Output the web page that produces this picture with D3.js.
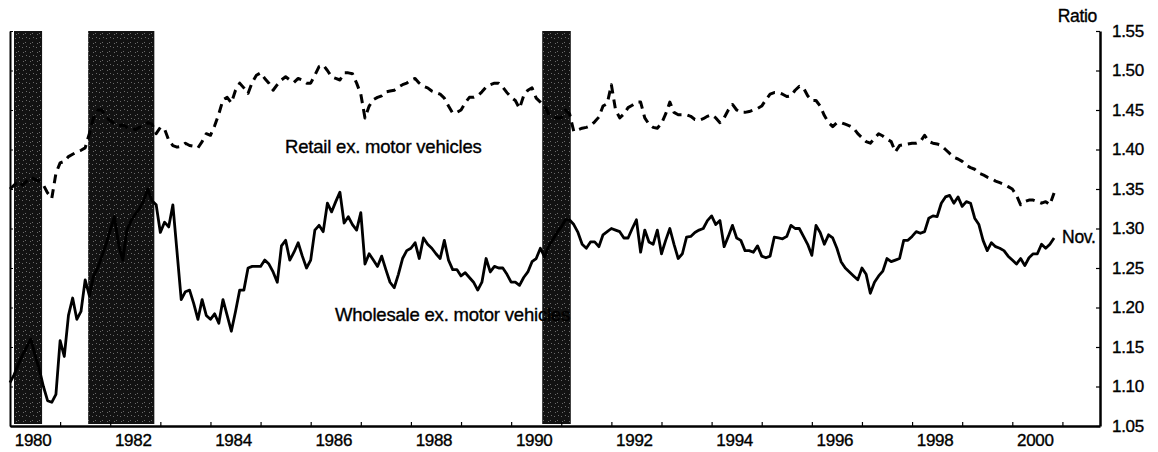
<!DOCTYPE html>
<meta charset="utf-8">
<style>

body {
  margin: 0;
  background: #fff;
}

text {
  font-family: "Liberation Sans", Arial, sans-serif;
  fill: #000;
  stroke: #000;
  stroke-width: 0.35px;
}

.axis path,
.axis line {
  stroke: #000;
}

.series {
  fill: none;
  stroke: #000;
  stroke-linejoin: round;
}

</style>
<svg></svg>
<script src="https://d3js.org/d3.v7.min.js"></script>
<script>

var width = 1158,
    height = 452;

// Monthly ratios, Jan 1980 through Nov 2000
var wholesale = [
  1.105, 1.115, 1.128, 1.140, 1.150, 1.160, 1.140, 1.122, 1.100, 1.082, 1.080, 1.090,
  1.158, 1.138, 1.190, 1.212, 1.185, 1.195, 1.235, 1.215, 1.240, 1.250, 1.265, 1.280,
  1.298, 1.315, 1.280, 1.260, 1.298, 1.310, 1.318, 1.325, 1.335, 1.350, 1.335, 1.330,
  1.295, 1.308, 1.302, 1.330, 1.270, 1.210, 1.220, 1.222, 1.205, 1.185, 1.210, 1.190,
  1.185, 1.192, 1.180, 1.210, 1.190, 1.170, 1.195, 1.222, 1.222, 1.250, 1.252, 1.252,
  1.252, 1.260, 1.255, 1.245, 1.232, 1.278, 1.285, 1.260, 1.270, 1.282, 1.265, 1.250,
  1.260, 1.298, 1.304, 1.296, 1.332, 1.321, 1.334, 1.346, 1.307, 1.315, 1.305, 1.298,
  1.320, 1.255, 1.268, 1.260, 1.252, 1.265, 1.248, 1.232, 1.225, 1.242, 1.262, 1.272,
  1.275, 1.282, 1.262, 1.288, 1.280, 1.275, 1.268, 1.262, 1.285, 1.260, 1.248, 1.248,
  1.240, 1.244, 1.238, 1.232, 1.222, 1.232, 1.262, 1.245, 1.252, 1.250, 1.250, 1.242,
  1.232, 1.232, 1.228, 1.238, 1.245, 1.258, 1.262, 1.275, 1.264, 1.278, 1.286, 1.295,
  1.302, 1.311, 1.311, 1.305, 1.295, 1.280, 1.275, 1.283, 1.283, 1.277, 1.292, 1.296,
  1.300, 1.298, 1.296, 1.288, 1.288, 1.300, 1.311, 1.270, 1.298, 1.283, 1.280, 1.298,
  1.268, 1.285, 1.300, 1.280, 1.262, 1.268, 1.289, 1.290, 1.295, 1.298, 1.300, 1.310,
  1.316, 1.305, 1.310, 1.277, 1.290, 1.304, 1.288, 1.285, 1.272, 1.272, 1.270, 1.278,
  1.265, 1.263, 1.265, 1.289, 1.288, 1.287, 1.290, 1.304, 1.300, 1.300, 1.290, 1.280,
  1.266, 1.304, 1.295, 1.280, 1.292, 1.288, 1.275, 1.258, 1.250, 1.245, 1.240, 1.235,
  1.250, 1.242, 1.218, 1.232, 1.240, 1.246, 1.262, 1.258, 1.260, 1.262, 1.285, 1.285,
  1.290, 1.296, 1.294, 1.296, 1.313, 1.316, 1.315, 1.332, 1.340, 1.342, 1.332, 1.340,
  1.328, 1.334, 1.332, 1.313, 1.305, 1.285, 1.272, 1.282, 1.277, 1.275, 1.272, 1.265,
  1.260, 1.255, 1.262, 1.253, 1.263, 1.268, 1.268, 1.280, 1.275, 1.280, 1.288
];

var retail = [
  1.350, 1.355, 1.360, 1.355, 1.360, 1.365, 1.362, 1.360, 1.355, 1.345, 1.338, 1.370,
  1.383, 1.385, 1.391, 1.394, 1.397, 1.399, 1.402, 1.420, 1.440, 1.450, 1.450, 1.440,
  1.437, 1.432, 1.430, 1.431, 1.428, 1.428, 1.425, 1.428, 1.430, 1.434, 1.432, 1.420,
  1.428, 1.426, 1.412, 1.405, 1.403, 1.404, 1.408, 1.405, 1.404, 1.402, 1.410, 1.420,
  1.418, 1.430, 1.445, 1.463, 1.466, 1.459, 1.475, 1.484, 1.478, 1.471, 1.485, 1.494,
  1.497, 1.490, 1.484, 1.475, 1.482, 1.488, 1.492, 1.488, 1.485, 1.490, 1.488, 1.484,
  1.484, 1.494, 1.505, 1.507, 1.500, 1.492, 1.490, 1.488, 1.497, 1.497, 1.496, 1.484,
  1.470, 1.440, 1.455, 1.463, 1.466, 1.468, 1.473, 1.474, 1.475, 1.479, 1.482, 1.484,
  1.488, 1.490, 1.484, 1.480, 1.478, 1.474, 1.472, 1.470, 1.465, 1.455, 1.446, 1.447,
  1.450, 1.459, 1.466, 1.466, 1.468, 1.473, 1.479, 1.482, 1.484, 1.484, 1.479, 1.472,
  1.466, 1.462, 1.452, 1.468, 1.475, 1.478, 1.465, 1.460, 1.455, 1.445, 1.441, 1.440,
  1.440, 1.450, 1.445, 1.423, 1.425, 1.427, 1.428, 1.430, 1.435, 1.441, 1.455, 1.458,
  1.482, 1.450, 1.440, 1.445, 1.453, 1.456, 1.460, 1.460, 1.440, 1.432, 1.428, 1.427,
  1.433, 1.445, 1.460, 1.447, 1.444, 1.444, 1.444, 1.442, 1.438, 1.437, 1.439, 1.442,
  1.444, 1.440, 1.434, 1.440, 1.450, 1.457, 1.450, 1.447, 1.447, 1.448, 1.450, 1.452,
  1.455, 1.463, 1.470, 1.472, 1.472, 1.470, 1.467, 1.468, 1.475, 1.480, 1.478, 1.468,
  1.462, 1.462, 1.455, 1.443, 1.434, 1.429, 1.434, 1.434, 1.432, 1.430, 1.427, 1.420,
  1.415, 1.410, 1.408, 1.414, 1.420, 1.417, 1.413, 1.410, 1.397, 1.405, 1.406, 1.407,
  1.408, 1.408, 1.410, 1.418, 1.410, 1.408, 1.407, 1.405, 1.400, 1.395, 1.390, 1.388,
  1.385, 1.380, 1.377, 1.375, 1.370, 1.368, 1.365, 1.363, 1.360, 1.358, 1.356, 1.353,
  1.350, 1.342, 1.330, 1.334, 1.336, 1.336, 1.334, 1.332, 1.334, 1.330, 1.345
];

// Recession periods, decimal years
var recessions = [[1980.08, 1980.64], [1981.56, 1982.88], [1990.62, 1991.19]];

var yTicks = [1.05, 1.10, 1.15, 1.20, 1.25, 1.30, 1.35, 1.40, 1.45, 1.50, 1.55];
var yearTicks = d3.range(1981, 2002);
var yearLabels = [1980, 1982, 1984, 1986, 1988, 1990, 1992, 1994, 1996, 1998, 2000];

var x = d3.scaleLinear()
    .domain([1980, 2001.75])
    .range([10, 1100]);

var y = d3.scaleLinear()
    .domain([1.05, 1.55])
    .range([426, 31]);

var svg = d3.select("svg")
    .attr("width", width)
    .attr("height", height);

// speckle texture for the shaded bars
var defs = svg.append("defs");
var pat = defs.append("pattern")
    .attr("id", "speck")
    .attr("patternUnits", "userSpaceOnUse")
    .attr("width", 7)
    .attr("height", 9);
pat.append("rect").attr("width", 7).attr("height", 9).attr("fill", "#121212");
[[1, 2], [4, 6], [5, 1], [2, 7]].forEach(function(p) {
  pat.append("rect").attr("x", p[0]).attr("y", p[1])
      .attr("width", 1).attr("height", 1).attr("fill", "#6a6a6a");
});

var clip = defs.append("clipPath").attr("id", "rec-clip");
clip.selectAll("rect")
    .data(recessions)
  .enter().append("rect")
    .attr("x", function(d) { return x(d[0]); })
    .attr("y", y(1.55))
    .attr("width", function(d) { return x(d[1]) - x(d[0]); })
    .attr("height", y(1.05) - y(1.55) - 2);

svg.append("g").selectAll("rect")
    .data(recessions)
  .enter().append("rect")
    .attr("x", function(d) { return x(d[0]); })
    .attr("y", y(1.55))
    .attr("width", function(d) { return x(d[1]) - x(d[0]); })
    .attr("height", y(1.05) - y(1.55) - 2)
    .attr("fill", "url(#speck)");

var line = d3.line()
    .x(function(d, i) { return x(1980 + i / 12); })
    .y(function(d) { return y(d); });

function drawSeries(g, color, w) {
  g.append("path")
      .attr("class", "series")
      .attr("d", line(retail))
      .attr("stroke", color)
      .attr("stroke-width", w)
      .attr("stroke-dasharray", "9,6");
  g.append("path")
      .attr("class", "series")
      .attr("d", line(wholesale))
      .attr("stroke", color)
      .attr("stroke-width", w - 0.2);
}

drawSeries(svg.append("g"), "#000", 3);
// lines show through the dark bars as light speckle
drawSeries(svg.append("g").attr("clip-path", "url(#rec-clip)"), "#bdbdbd", 2.2);

// axes
svg.append("g")
    .attr("class", "axis")
    .attr("transform", "translate(" + x(1980) + ",0)")
    .call(d3.axisLeft(y).tickValues(yTicks).tickSize(-3).tickSizeOuter(0).tickFormat(""))
    .call(function(g) { g.select(".domain").attr("stroke-width", 2); g.selectAll(".tick line").attr("stroke-width", 1); });

var right = svg.append("g")
    .attr("class", "axis")
    .attr("transform", "translate(" + x(2001.75) + ",0)")
    .call(d3.axisRight(y).tickValues(yTicks).tickSize(-4).tickSizeOuter(0).tickPadding(12).tickFormat(d3.format(".2f")));
right.select(".domain").attr("stroke-width", 2.5);
right.selectAll(".tick line").attr("stroke-width", 1.2);
right.selectAll("text")
    .attr("font-size", "17px")
    .attr("letter-spacing", "-0.3px")
    .attr("font-family", "'Liberation Sans', Arial, sans-serif");

var bottom = svg.append("g")
    .attr("class", "axis")
    .attr("transform", "translate(0," + y(1.05) + ")")
    .call(d3.axisBottom(x).tickValues(yearTicks).tickSize(-4).tickSizeOuter(0).tickFormat(""));
bottom.select(".domain").attr("stroke-width", 2.5);
bottom.selectAll(".tick line").attr("stroke-width", 1.2);

svg.append("g").selectAll("text")
    .data(yearLabels)
  .enter().append("text")
    .attr("x", function(d) { return x(d + 0.5) - 2; })
    .attr("y", 446)
    .attr("text-anchor", "middle")
    .attr("font-size", "17px")
    .attr("letter-spacing", "-0.3px")
    .text(function(d) { return d; });

svg.append("text")
    .attr("x", 1097)
    .attr("y", 22)
    .attr("text-anchor", "end")
    .attr("font-size", "17.5px")
    .attr("letter-spacing", "-0.3px")
    .text("Ratio");

svg.append("text")
    .attr("x", 285)
    .attr("y", 153)
    .attr("font-size", "18.5px")
    .attr("letter-spacing", "-0.2px")
    .text("Retail ex. motor vehicles");

svg.append("text")
    .attr("x", 335)
    .attr("y", 321)
    .attr("font-size", "18.5px")
    .attr("letter-spacing", "-0.2px")
    .text("Wholesale ex. motor vehicles");

svg.append("text")
    .attr("x", x(1980 + (wholesale.length - 1) / 12) + 8)
    .attr("y", 243)
    .attr("font-size", "17.5px")
    .attr("letter-spacing", "-0.3px")
    .text("Nov.");

</script>
